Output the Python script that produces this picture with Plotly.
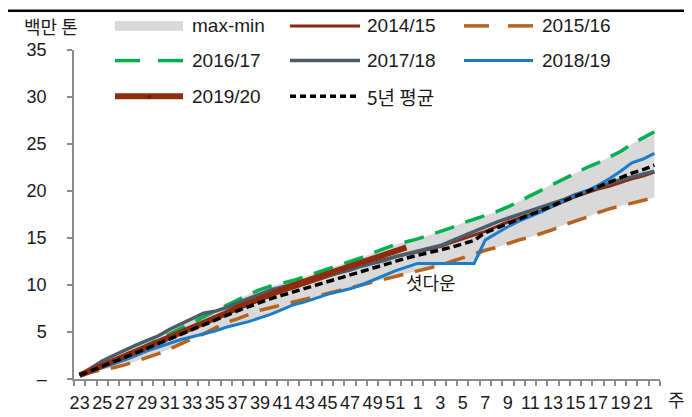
import numpy as np
import plotly.graph_objects as go

weeks = list(range(23, 53)) + list(range(1, 23))

y2014 = [0.4, 0.9, 1.4, 1.9, 2.4, 2.9, 3.4, 3.9, 4.4, 4.9, 5.4, 5.9, 6.4, 6.9, 7.4, 7.9,
         8.4, 8.9, 9.3, 9.7, 10.1, 10.5, 10.9, 11.3, 11.7, 12.1, 12.4, 12.7, 13.0, 13.3,
         13.5, 13.8, 14.1, 14.5, 14.9, 15.3, 15.7, 16.2, 16.7, 17.1, 17.5, 17.9, 18.4,
         18.9, 19.4, 19.8, 20.2, 20.5, 20.9, 21.3, 21.6, 22.0]
y2015 = [0.4, 0.7, 1.0, 1.2, 1.5, 1.9, 2.3, 2.7, 3.2, 3.8, 4.3, 4.8, 5.4, 6.0, 6.4, 6.9,
         7.3, 7.6, 7.9, 8.2, 8.5, 8.8, 9.1, 9.4, 9.7, 10.0, 10.3, 10.6, 10.9, 11.2, 11.5,
         11.8, 12.1, 12.5, 12.9, 13.3, 13.7, 14.0, 14.4, 14.8, 15.1, 15.5, 15.9, 16.4,
         16.8, 17.2, 17.7, 18.1, 18.4, 18.7, 19.0, 19.3]
y2016 = [0.4, 0.9, 1.5, 2.0, 2.5, 3.0, 3.6, 4.2, 4.8, 5.4, 6.0, 6.6, 7.3, 7.9, 8.5, 9.0,
         9.5, 9.9, 10.2, 10.5, 10.9, 11.3, 11.7, 12.1, 12.5, 12.9, 13.4, 13.9, 14.3, 14.6,
         14.9, 15.3, 15.7, 16.1, 16.6, 17.0, 17.4, 17.8, 18.3, 18.9, 19.5, 20.1, 20.8,
         21.4, 21.9, 22.5, 23.0, 23.6, 24.2, 25.0, 25.6, 26.3]
y2017 = [0.4, 1.2, 1.9, 2.5, 3.1, 3.6, 4.1, 4.6, 5.3, 5.9, 6.5, 7.0, 7.2, 7.6, 8.1, 8.6,
         9.1, 9.5, 9.8, 10.1, 10.4, 10.7, 11.0, 11.3, 11.6, 12.0, 12.3, 12.6, 13.0, 13.3,
         13.6, 13.9, 14.2, 14.7, 15.2, 15.8, 16.3, 16.7, 17.1, 17.5, 17.9, 18.3, 18.7,
         19.1, 19.6, 20.0, 20.4, 20.8, 21.2, 21.5, 21.8, 22.1]
y2018 = [0.4, 0.8, 1.2, 1.6, 2.0, 2.5, 3.0, 3.4, 3.8, 4.2, 4.5, 4.8, 5.1, 5.5, 5.8, 6.1,
         6.5, 6.9, 7.4, 7.9, 8.2, 8.6, 9.0, 9.3, 9.6, 10.0, 10.5, 11.0, 11.5, 11.9, 12.3,
         12.3, 12.3, 12.3, 12.3, 12.3, 14.8, 15.5, 16.2, 16.8, 17.3, 17.8, 18.4, 19.0,
         19.5, 20.0, 20.6, 21.3, 22.1, 23.0, 23.4, 24.0]
y2019 = [0.4, 0.9, 1.4, 1.9, 2.4, 2.9, 3.4, 3.9, 4.5, 5.0, 5.5, 6.0, 6.5, 7.0, 7.6, 8.1,
         8.6, 9.1, 9.6, 10.0, 10.4, 10.8, 11.2, 11.6, 12.0, 12.5, 12.9, 13.3, 13.7, 14.0]

y_tickvals = [0, 5, 10, 15, 20, 25, 30, 35]
y_ticktext = ["–", "5", "10", "15", "20", "25", "30", "35"]

x = list(range(len(weeks)))
five = np.array([y2014, y2015, y2016, y2017, y2018])
band_max = five.max(axis=0)
band_min = five.min(axis=0)
avg5 = five.mean(axis=0)

C14 = "#8B2A0E"
C15 = "#B5631E"
C16 = "#00B050"
C17 = "#4B5D6B"
C18 = "#1C7CC7"
C19 = "#8E2C10"
CBAND = "#D9D9D9"

W14, W15, W16, W17, W18, W19, WAVG = 3, 3.5, 3.5, 3.5, 3, 6, 3.5

fig = go.Figure()
fig.add_trace(go.Scatter(x=x, y=band_min, mode="lines", line=dict(width=0), hoverinfo="skip"))
fig.add_trace(go.Scatter(x=x, y=band_max, mode="lines", line=dict(width=0), fill="tonexty",
                         fillcolor=CBAND, name="max-min"))
fig.add_trace(go.Scatter(x=x, y=y2014, mode="lines", line=dict(color=C14, width=W14), name="2014/15"))
fig.add_trace(go.Scatter(x=x, y=y2015, mode="lines", line=dict(color=C15, width=W15, dash="20px,12px"), name="2015/16"))
fig.add_trace(go.Scatter(x=x, y=y2016, mode="lines", line=dict(color=C16, width=W16, dash="20px,12px"), name="2016/17"))
fig.add_trace(go.Scatter(x=x, y=y2017, mode="lines", line=dict(color=C17, width=W17), name="2017/18"))
fig.add_trace(go.Scatter(x=x, y=y2018, mode="lines", line=dict(color=C18, width=W18), name="2018/19"))
fig.add_trace(go.Scatter(x=x[:len(y2019)], y=y2019, mode="lines", line=dict(color=C19, width=W19), name="2019/20"))
fig.add_trace(go.Scatter(x=x, y=avg5, mode="lines", line=dict(color="#000000", width=WAVG, dash="8px,4px"), name="5년 평균"))

L, R, T, B = 66, 652, 42, 383
W, H = 692, 417

def px(v):
    return (v - L) / (R - L)

def py(v):
    return (B - v) / (B - T)

shapes = []
annotations = []
FONT = "Liberation Sans, Arial, sans-serif"
KFONT = "Noto Sans CJK KR, Liberation Sans, sans-serif"

legend_items = [
    ("band", "max-min", 107, 175, 182, 17, None),
    ("solid", "2014/15", 282, 352, 357, 17, (C14, W14)),
    ("dash", "2015/16", 456, 525, 532, 17, (C15, W15)),
    ("dash", "2016/17", 107, 175, 182, 53, (C16, W16)),
    ("solid", "2017/18", 282, 352, 357, 53, (C17, W17)),
    ("solid", "2018/19", 456, 525, 532, 53, (C18, W18)),
    ("solid", "2019/20", 107, 175, 182, 90, (C19, W19)),
    ("dot", "5년 평균", 282, 352, 357, 90, ("#000000", WAVG)),
]
for kind, label, x0, x1, tx, yc, st in legend_items:
    if kind == "band":
        shapes.append(dict(type="rect", xref="paper", yref="paper", x0=px(x0), x1=px(x1),
                           y0=py(yc + 5), y1=py(yc - 5), fillcolor=CBAND, line=dict(width=0)))
    elif kind == "solid":
        shapes.append(dict(type="line", xref="paper", yref="paper", x0=px(x0), x1=px(x1),
                           y0=py(yc), y1=py(yc), line=dict(color=st[0], width=st[1])))
    elif kind == "dash":
        shapes.append(dict(type="line", xref="paper", yref="paper", x0=px(x0), x1=px(x0 + 25),
                           y0=py(yc), y1=py(yc), line=dict(color=st[0], width=st[1])))
        shapes.append(dict(type="line", xref="paper", yref="paper", x0=px(x1 - 25), x1=px(x1),
                           y0=py(yc), y1=py(yc), line=dict(color=st[0], width=st[1])))
    else:
        shapes.append(dict(type="line", xref="paper", yref="paper", x0=px(x0), x1=px(x1),
                           y0=py(yc), y1=py(yc), line=dict(color=st[0], width=st[1], dash="6px,4px")))
    annotations.append(dict(x=px(tx), y=py(yc), xref="paper", yref="paper", text=label,
                            showarrow=False, xanchor="left", yanchor="middle",
                            font=dict(family=KFONT if "년" in label else FONT, size=19, color="#1A1A1A")))

# small marker on the 2019/20 legend line
shapes.append(dict(type="circle", xref="paper", yref="paper", x0=px(139.5), x1=px(143.5),
                   y0=py(92), y1=py(88), fillcolor="#6E1E08", line=dict(width=0)))

shapes.append(dict(type="rect", xref="paper", yref="paper", x0=px(0), x1=px(W),
                   y0=py(2.5), y1=py(0), fillcolor="#000000", line=dict(width=0)))

annotations.append(dict(x=px(14), y=py(17), xref="paper", yref="paper", text="백만 톤", showarrow=False,
                        xanchor="left", yanchor="middle", font=dict(family=KFONT, size=18, color="#1A1A1A")))
annotations.append(dict(x=px(668), y=py(404), xref="paper", yref="paper", text="주", showarrow=False,
                        xanchor="center", yanchor="middle", font=dict(family=KFONT, size=18, color="#1A1A1A")))
annotations.append(dict(x=px(423), y=py(282), xref="paper", yref="paper", text="셧다운", showarrow=False,
                        xanchor="center", yanchor="middle", font=dict(family=KFONT, size=18, color="#1A1A1A")))

fig.update_layout(
    width=W, height=H,
    margin=dict(l=L, r=W - R, t=T, b=H - B),
    paper_bgcolor="white", plot_bgcolor="white",
    showlegend=False,
    shapes=shapes, annotations=annotations,
    font=dict(family=FONT, color="#1A1A1A"),
)
fig.update_xaxes(
    range=[-0.5, len(weeks) - 0.5], showgrid=False, zeroline=False,
    showline=True, linecolor="#8C8C8C", linewidth=1.5,
    tickmode="array", tickvals=x[::2], ticktext=[str(w) for w in weeks[::2]],
    ticks="", tickangle=0, ticklabelstandoff=7,
    tickfont=dict(family=FONT, size=18, color="#1A1A1A"),
    minor=dict(ticks="outside", tick0=-0.5, dtick=1, ticklen=5, tickcolor="#8C8C8C", tickwidth=1.5, showgrid=False),
)
fig.update_yaxes(
    range=[0, 35], showgrid=False, zeroline=False,
    showline=True, linecolor="#8C8C8C", linewidth=1.5,
    tickmode="array", tickvals=y_tickvals, ticktext=y_ticktext,
    ticks="outside", ticklen=5, tickcolor="#8C8C8C", tickwidth=1.5,
    tickfont=dict(family=FONT, size=18, color="#1A1A1A"), ticklabelstandoff=17,
)

fig.write_html("out.html")
